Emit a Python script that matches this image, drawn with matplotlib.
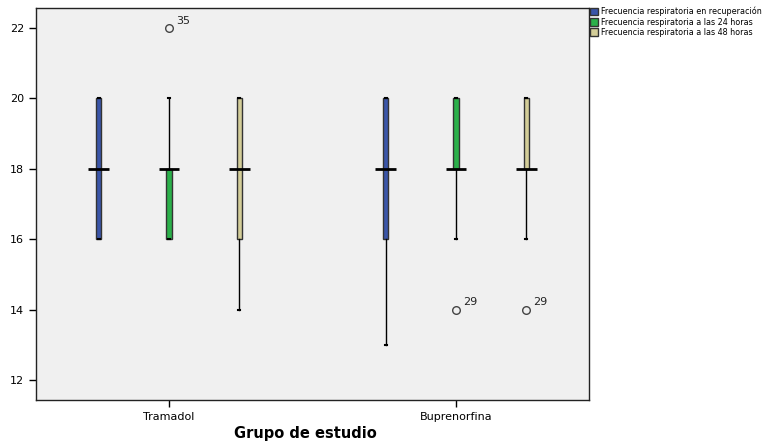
import matplotlib
matplotlib.use("Agg")
import matplotlib.pyplot as plt
from matplotlib.patches import Patch

# data (respiratory rate)
groups = ["Tramadol", "Buprenorfina"]
series = ["Frecuencia respiratoria en recuperación",
          "Frecuencia respiratoria a las 24 horas",
          "Frecuencia respiratoria a las 48 horas"]
colors = ["#3A55A8", "#2BB04A", "#D3CD98"]

# per group, per series: whislo, q1, median, q3, whishi
whislo = [[16, 16, 14], [13, 16, 16]]
q1 = [[16, 16, 16], [16, 18, 18]]
med = [[18, 18, 18], [18, 18, 18]]
q3 = [[20, 18, 20], [20, 20, 20]]
whishi = [[20, 20, 20], [20, 20, 20]]
fliers = [[[], [22], []], [[], [14], [14]]]
flier_ids = [[[], ["35"], []], [[], ["29"], ["29"]]]

offsets = [-0.245, 0.0, 0.245]
box_w = 0.018
med_w = 0.072

fig = plt.figure(figsize=(7.7, 4.45), dpi=100)
ax = fig.add_axes([36 / 770, 1 - 400 / 445, (589 - 36) / 770, (400 - 8) / 445])
ax.set_facecolor("#F0F0F0")

for g in range(len(groups)):
    for s in range(len(series)):
        pos = g + offsets[s]
        st = dict(whislo=whislo[g][s], q1=q1[g][s], med=med[g][s],
                  q3=q3[g][s], whishi=whishi[g][s], fliers=fliers[g][s])
        ax.bxp([st], positions=[pos], widths=box_w, capwidths=box_w * 0.4,
               patch_artist=True, showfliers=True,
               boxprops=dict(facecolor=colors[s], edgecolor="#333333", linewidth=1.0),
               whiskerprops=dict(color="black", linewidth=1.0),
               capprops=dict(color="black", linewidth=1.5),
               medianprops=dict(linewidth=0),
               flierprops=dict(marker="o", markersize=5.5, markerfacecolor="none",
                               markeredgecolor="#444444", markeredgewidth=1.0))
        ax.hlines(med[g][s], pos - med_w / 2, pos + med_w / 2, color="black", linewidth=2.0, zorder=5)
        for v, lab in zip(fliers[g][s], flier_ids[g][s]):
            ax.annotate(lab, (pos, v), xytext=(5, 3), textcoords="offset points",
                        fontsize=8, color="#222222")

ax.set_xlim(-0.463, 1.463)
ax.set_ylim(11.43, 22.57)
ax.set_yticks([12, 14, 16, 18, 20, 22])
ax.set_xticks(range(len(groups)))
ax.set_xticklabels(groups)
ax.tick_params(labelsize=8, length=5, width=1)
for sp in ax.spines.values():
    sp.set_color("#222222")
    sp.set_linewidth(1.0)
ax.set_xlabel("Grupo de estudio", fontsize=10.5, fontweight="bold")
ax.xaxis.set_label_coords(0.488, -0.066)

handles = [Patch(facecolor=c, edgecolor="#333333", label=l) for c, l in zip(colors, series)]
fig.legend(handles=handles, loc="upper left", bbox_to_anchor=(589 / 770, 1 - 6 / 445),
           frameon=False, fontsize=5.8, handlelength=1.0, handleheight=1.1,
           handletextpad=0.4, labelspacing=0.15, borderpad=0.1, borderaxespad=0)

fig.savefig("out.png", dpi=100)
